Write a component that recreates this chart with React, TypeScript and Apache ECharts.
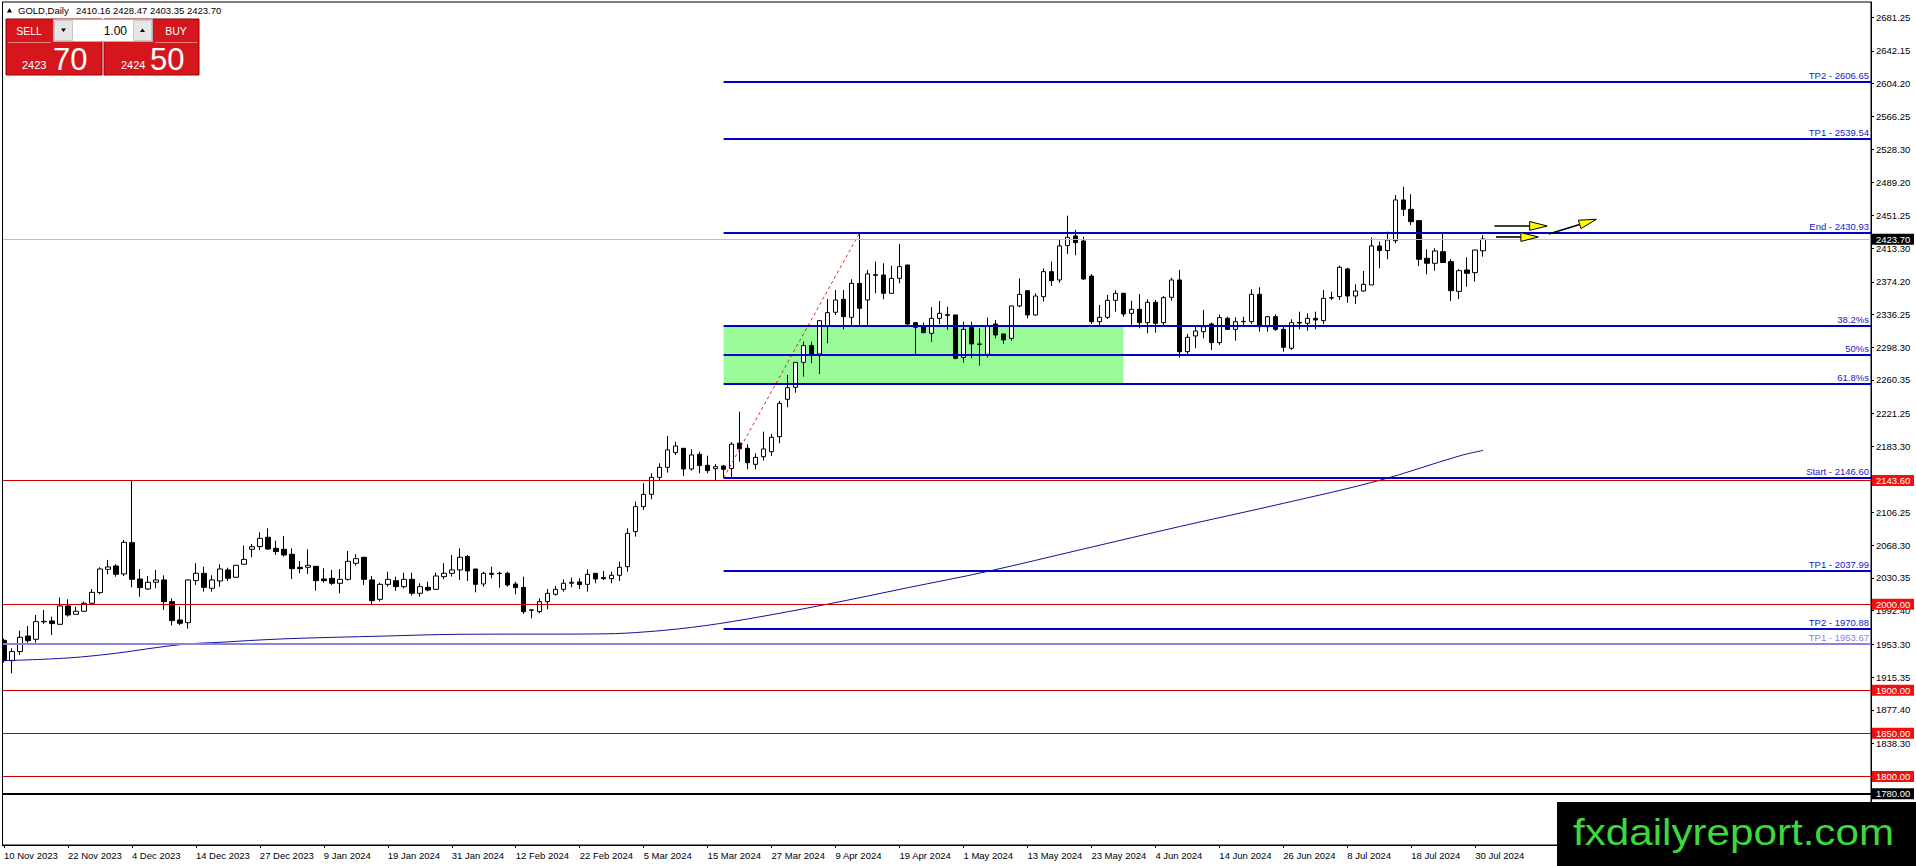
import React, { useEffect, useRef } from "react";
import * as echarts from "echarts";

const W = 1916;
const H = 866;
const FONT = "'Liberation Sans', Arial, sans-serif";
const FONT_WIDE = "'Liberation Sans', Arial, sans-serif";
const FS = 9.5;

// ---------- data ----------
const SYMBOL = "GOLD,Daily";
const MONTH_DAYS: [string, string, number[]][] = [
  ["Nov", "2023", [10, 13, 14, 15, 16, 17, 20, 21, 22, 23, 24, 27, 28, 29, 30]],
  ["Dec", "2023", [1, 4, 5, 6, 7, 8, 11, 12, 13, 14, 15, 18, 19, 20, 21, 22, 26, 27, 28, 29]],
  ["Jan", "2024", [2, 3, 4, 5, 8, 9, 10, 11, 12, 15, 16, 17, 18, 19, 22, 23, 24, 25, 26, 29, 30, 31]],
  ["Feb", "2024", [1, 2, 5, 6, 7, 8, 9, 12, 13, 14, 15, 16, 19, 20, 21, 22, 23, 26, 27, 28, 29]],
  ["Mar", "2024", [1, 4, 5, 6, 7, 8, 11, 12, 13, 14, 15, 18, 19, 20, 21, 22, 25, 26, 27, 28]],
  ["Apr", "2024", [1, 2, 3, 4, 5, 8, 9, 10, 11, 12, 15, 16, 17, 18, 19, 22, 23, 24, 25, 26, 29, 30]],
  ["May", "2024", [1, 2, 3, 6, 7, 8, 9, 10, 13, 14, 15, 16, 17, 20, 21, 22, 23, 24, 27, 28, 29, 30, 31]],
  ["Jun", "2024", [3, 4, 5, 6, 7, 10, 11, 12, 13, 14, 17, 18, 19, 20, 21, 24, 25, 26, 27, 28]],
  ["Jul", "2024", [1, 2, 3, 4, 5, 8, 9, 10, 11, 12, 15, 16, 17, 18, 19, 22, 23, 24, 25, 26, 29, 30, 31]],
];
const DATES: string[] = [];
MONTH_DAYS.forEach(([m, y, days]) => days.forEach((d) => DATES.push(`${d} ${m} ${y}`)));
const FUTURE_SLOTS = 48;
const CATEGORIES: string[] = [...DATES, ...new Array(FUTURE_SLOTS).fill("")];
const LABEL_EVERY = 8;

const OPEN = [
  1958.0, 1934.4, 1944.9, 1963.0, 1959.2, 1979.5, 1980.5, 1976.6, 1997.9, 1988.2,
  1991.7, 2001.0, 2013.4, 2040.4, 2044.3, 2035.0, 2071.4, 2029.2, 2017.6, 2025.4,
  2028.1, 2002.9, 1981.6, 1978.5, 2027.3, 2035.8, 2018.4, 2026.9, 2039.7, 2031.2,
  2046.3, 2063.7, 2066.8, 2077.6, 2064.8, 2063.7, 2057.9, 2042.8, 2042.8, 2043.9,
  2029.2, 2030.0, 2024.2, 2028.8, 2047.4, 2054.4, 2028.1, 2005.6, 2023.0, 2027.3,
  2020.3, 2028.8, 2012.6, 2019.5, 2017.2, 2031.9, 2035.8, 2039.7, 2055.2, 2040.8,
  2023.4, 2035.8, 2035.8, 2035.8, 2023.4, 2019.5, 1993.3, 1991.3, 2002.9, 2011.4,
  2017.2, 2024.2, 2025.8, 2023.0, 2035.8, 2030.8, 2029.6, 2033.5, 2043.5, 2084.2,
  2113.2, 2127.5, 2147.2, 2158.8, 2175.9, 2180.9, 2156.9, 2173.9, 2161.2, 2157.3,
  2160.4, 2157.5, 2187.0, 2180.9, 2162.3, 2171.2, 2177.0, 2194.4, 2237.8, 2251.7,
  2280.7, 2300.1, 2290.4, 2322.9, 2338.8, 2353.9, 2333.0, 2372.4, 2353.1, 2381.7,
  2382.1, 2360.8, 2378.2, 2393.7, 2326.8, 2322.9, 2314.4, 2331.8, 2336.0, 2335.7,
  2286.5, 2321.0, 2302.0, 2290.0, 2325.2, 2313.6, 2308.6, 2346.1, 2363.9, 2335.7,
  2356.9, 2386.0, 2376.3, 2416.2, 2427.4, 2421.6, 2380.9, 2327.9, 2333.0, 2352.7,
  2360.8, 2337.6, 2342.3, 2326.8, 2350.4, 2326.8, 2356.2, 2376.3, 2293.1, 2311.3,
  2316.3, 2325.2, 2303.6, 2331.8, 2319.0, 2327.9, 2327.9, 2359.7, 2322.1, 2333.7,
  2319.0, 2297.0, 2327.0, 2326.0, 2331.8, 2329.1, 2355.4, 2357.0, 2389.1, 2357.7,
  2363.5, 2370.5, 2415.8, 2410.4, 2421.9, 2469.2, 2458.3, 2445.2, 2401.5, 2395.7,
  2409.2, 2397.6, 2363.1, 2387.9, 2384.8, 2410.16,
];
const HIGH = [
  1960.0, 1948.7, 1969.2, 1974.6, 1987.4, 1993.3, 1985.5, 2007.6, 2005.6, 1997.1,
  2002.9, 2017.6, 2042.8, 2051.3, 2046.3, 2074.5, 2143.6, 2040.8, 2032.7, 2039.7,
  2033.4, 2006.8, 1997.1, 2028.5, 2047.4, 2043.5, 2033.5, 2046.3, 2042.4, 2045.4,
  2068.0, 2069.8, 2083.4, 2088.0, 2073.7, 2079.1, 2064.8, 2050.1, 2063.7, 2044.3,
  2041.6, 2039.7, 2040.8, 2061.7, 2057.9, 2054.8, 2032.7, 2025.0, 2037.7, 2031.9,
  2036.6, 2036.6, 2024.2, 2026.1, 2036.6, 2047.4, 2057.1, 2064.8, 2057.1, 2040.9,
  2037.7, 2043.5, 2037.7, 2037.7, 2026.1, 2031.9, 1994.0, 2006.8, 2017.6, 2021.1,
  2028.8, 2030.8, 2030.0, 2040.4, 2036.0, 2038.5, 2037.7, 2049.3, 2088.0, 2119.0,
  2140.3, 2151.9, 2163.5, 2195.2, 2188.6, 2181.2, 2179.7, 2177.0, 2172.4, 2162.7,
  2161.6, 2188.0, 2223.5, 2185.5, 2175.1, 2200.3, 2197.6, 2235.9, 2266.1, 2281.0,
  2304.7, 2304.7, 2329.9, 2354.2, 2364.7, 2364.7, 2377.1, 2430.93, 2387.9, 2397.6,
  2395.7, 2392.9, 2418.1, 2394.0, 2327.0, 2326.8, 2344.6, 2351.9, 2345.3, 2336.0,
  2327.9, 2327.9, 2320.2, 2332.6, 2329.9, 2313.8, 2346.3, 2378.2, 2364.0, 2360.8,
  2389.8, 2397.6, 2422.7, 2451.0, 2434.4, 2426.6, 2383.3, 2347.3, 2358.9, 2364.3,
  2361.6, 2352.3, 2360.0, 2353.9, 2353.1, 2357.7, 2379.0, 2387.9, 2313.6, 2322.1,
  2341.5, 2326.8, 2336.4, 2333.7, 2332.9, 2333.7, 2365.5, 2367.8, 2334.5, 2336.4,
  2322.1, 2330.6, 2339.5, 2337.6, 2339.5, 2364.7, 2362.8, 2393.0, 2390.6, 2371.3,
  2386.7, 2425.5, 2420.8, 2432.4, 2475.0, 2484.6, 2475.8, 2446.0, 2411.9, 2413.1,
  2431.2, 2400.3, 2389.1, 2402.6, 2411.2, 2428.47,
];
const LOW = [
  1932.0, 1919.7, 1941.0, 1955.3, 1955.3, 1977.0, 1964.2, 1976.0, 1985.5, 1988.0,
  1990.9, 2000.2, 2011.4, 2034.6, 2031.9, 2032.7, 2019.5, 2008.7, 2016.4, 2018.4,
  1993.3, 1975.1, 1975.8, 1971.6, 2022.3, 2014.5, 2014.5, 2020.3, 2026.9, 2031.0,
  2046.0, 2054.4, 2062.9, 2062.9, 2057.1, 2055.2, 2029.2, 2035.8, 2035.0, 2015.7,
  2025.0, 2022.3, 2012.6, 2027.3, 2044.7, 2022.3, 2000.2, 2003.0, 2020.3, 2015.3,
  2018.4, 2009.9, 2008.7, 2014.9, 2017.0, 2028.8, 2032.0, 2028.1, 2026.9, 2013.7,
  2020.3, 2030.0, 2019.2, 2020.3, 2011.4, 1988.6, 1983.6, 1989.4, 1994.0, 2009.9,
  2014.5, 2019.5, 2017.6, 2014.5, 2024.2, 2028.0, 2024.2, 2026.9, 2037.7, 2078.4,
  2109.3, 2121.7, 2144.2, 2152.7, 2173.2, 2148.8, 2155.0, 2151.9, 2151.9, 2144.2,
  2146.6, 2147.0, 2165.4, 2156.5, 2156.5, 2166.6, 2172.0, 2186.7, 2228.5, 2245.5,
  2264.1, 2279.6, 2267.2, 2302.8, 2335.7, 2319.0, 2322.9, 2322.9, 2322.9, 2360.8,
  2353.9, 2360.5, 2372.4, 2322.9, 2290.4, 2314.4, 2304.7, 2325.2, 2318.3, 2284.2,
  2280.4, 2285.4, 2276.9, 2286.5, 2308.6, 2302.0, 2305.9, 2344.6, 2331.8, 2335.0,
  2351.2, 2369.3, 2373.2, 2406.5, 2405.0, 2376.3, 2325.2, 2322.9, 2331.0, 2339.5,
  2333.7, 2324.1, 2320.2, 2314.4, 2315.2, 2324.1, 2352.3, 2286.5, 2288.1, 2297.0,
  2308.6, 2295.0, 2300.9, 2318.3, 2305.9, 2324.1, 2325.2, 2316.3, 2316.3, 2317.1,
  2293.1, 2295.0, 2319.0, 2317.5, 2319.0, 2325.2, 2353.1, 2353.1, 2350.0, 2348.5,
  2362.8, 2370.5, 2389.8, 2400.3, 2418.9, 2450.6, 2440.2, 2392.6, 2382.9, 2387.1,
  2396.4, 2351.9, 2354.2, 2368.6, 2374.4, 2403.35,
];
const CLOSE = [
  1934.5, 1944.9, 1961.5, 1957.6, 1979.7, 1980.0, 1977.4, 1997.9, 1987.4, 1991.7,
  2001.0, 2013.7, 2040.8, 2043.2, 2034.6, 2071.8, 2028.8, 2019.2, 2025.4, 2028.1,
  2002.9, 1980.9, 1977.8, 2028.1, 2035.8, 2019.5, 2028.1, 2040.8, 2030.0, 2045.1,
  2052.0, 2066.7, 2076.4, 2064.0, 2061.0, 2057.1, 2041.2, 2041.2, 2045.1, 2027.3,
  2027.3, 2024.2, 2028.8, 2049.7, 2052.8, 2028.8, 2004.1, 2023.0, 2028.8, 2020.3,
  2028.8, 2012.6, 2020.3, 2016.4, 2032.7, 2035.8, 2039.7, 2054.4, 2038.5, 2023.0,
  2035.8, 2034.6, 2035.4, 2022.3, 2019.2, 1991.3, 1993.0, 2002.9, 2012.6, 2017.2,
  2024.2, 2025.4, 2022.7, 2034.6, 2029.2, 2029.6, 2033.5, 2042.8, 2082.2, 2113.2,
  2127.5, 2147.2, 2158.8, 2179.0, 2183.6, 2156.9, 2173.2, 2160.8, 2155.0, 2159.6,
  2156.5, 2185.7, 2180.3, 2164.2, 2170.4, 2180.1, 2193.7, 2233.1, 2251.3, 2280.7,
  2300.1, 2290.0, 2329.1, 2338.4, 2353.1, 2333.7, 2372.4, 2343.4, 2383.3, 2382.5,
  2360.8, 2378.2, 2391.8, 2325.2, 2321.4, 2315.2, 2331.8, 2337.6, 2335.3, 2285.4,
  2319.0, 2302.0, 2301.6, 2322.9, 2312.5, 2306.7, 2346.1, 2359.7, 2335.7, 2357.7,
  2386.0, 2375.5, 2415.8, 2425.8, 2419.6, 2377.5, 2327.9, 2333.0, 2352.7, 2360.8,
  2336.8, 2342.3, 2326.8, 2350.4, 2326.0, 2355.8, 2376.3, 2293.1, 2309.8, 2317.1,
  2322.1, 2303.6, 2332.6, 2319.0, 2327.9, 2328.3, 2359.7, 2322.1, 2333.7, 2319.0,
  2298.1, 2326.8, 2326.4, 2331.8, 2329.9, 2355.0, 2355.8, 2391.0, 2357.7, 2363.5,
  2371.3, 2415.8, 2410.4, 2422.7, 2469.2, 2458.3, 2444.0, 2400.3, 2395.7, 2410.0,
  2396.6, 2363.9, 2387.1, 2384.0, 2411.1, 2423.70,
];

// moving average, read at sample bars
const MA_IDX = [0, 8, 14, 19, 23, 27, 32, 37, 47, 57, 74, 79, 86, 93, 103, 113, 123, 135, 147, 160, 172, 182, 185];
const MA_VAL = [1934.4, 1937.5, 1943.0, 1949.5, 1953.8, 1955.7, 1958.4, 1960.4, 1962.8, 1965.0, 1965.4, 1967.0, 1973.0, 1982.8, 2000.0, 2019.0, 2038.0, 2064.0, 2090.0, 2117.0, 2143.6, 2172.0, 2178.5];

const Y_MIN = 1720.4;
const Y_MAX = 2699.0;
const Y_TICKS = [
  2681.25, 2642.15, 2604.2, 2566.25, 2528.3, 2489.2, 2451.25, 2413.3, 2374.2, 2336.25,
  2298.3, 2260.35, 2221.25, 2183.3, 2106.25, 2068.3, 2030.35, 1992.4, 1953.3,
  1915.35, 1877.4, 1838.3,
];

const RED_LEVELS = [2143.6, 2000.0, 1900.0, 1850.0, 1800.0];
const BLACK_LEVEL = 1780.0;

const FIB_START_IDX = 90;
const FIB_END_IDX = 107;
const FIB_START_PRICE = 2146.6;
const FIB_END_PRICE = 2430.93;
const FIB_LABELS = ["TP2 - 2606.65", "TP1 - 2539.54", "End - 2430.93", "38.2%s", "50%s", "61.8%s", "Start - 2146.60", "TP1 - 2037.99", "TP2 - 1970.88"];
const FIB_VALUES = [2606.65, 2539.54, 2430.93, 2322.32, 2288.77, 2255.21, 2146.6, 2037.99, 1970.88];
const ZONE_END_IDX = 140;
const ZONE_TOP = 2322.32;
const ZONE_BOTTOM = 2255.21;
const EXTRA_TP_LABEL = "TP1 - 1953.67";
const EXTRA_TP_VALUE = 1953.67;

const BID_PRICE = "2423.70";
const ASK_PRICE = "2424.50";
const LOT = "1.00";
const WATERMARK = "fxdailyreport.com";

// arrows: [fromIndex, fromPrice, tipIndex, tipPrice]
const ARROWS: number[][] = [
  [186.4, 2439.0, 193.0, 2439.0],
  [186.6, 2426.2, 191.9, 2426.2],
  [193.2, 2429.7, 199.15, 2446.8],
];

const N = CATEGORIES.length;
const LAST = DATES.length - 1;

function buildOption(): any {
  const labelInterval = (index: number) => index % LABEL_EVERY === 0 && index < DATES.length;
  return {
    animation: false,
    backgroundColor: "#ffffff",
    grid: { left: -1, top: 2, width: 1872, height: 843, show: true, borderColor: "#000", borderWidth: 1, backgroundColor: "transparent" },
    xAxis: {
      type: "category",
      data: CATEGORIES,
      boundaryGap: true,
      axisLine: { show: true, lineStyle: { color: "#000", width: 1 } },
      axisTick: { show: true, interval: labelInterval, alignWithLabel: true, length: 3, lineStyle: { color: "#000" } },
      axisLabel: { interval: labelInterval, align: "left", margin: 5, fontSize: FS, color: "#000", fontFamily: FONT },
      splitLine: { show: false },
    },
    yAxis: {
      type: "value",
      position: "right",
      min: Y_MIN,
      max: Y_MAX,
      axisLine: { show: true, lineStyle: { color: "#000", width: 1 } },
      axisTick: { show: true, customValues: Y_TICKS, length: 3, inside: false, lineStyle: { color: "#000" } },
      axisLabel: {
        customValues: Y_TICKS,
        formatter: (v: number) => Number(v).toFixed(2),
        margin: 5,
        fontSize: FS,
        color: "#000",
        fontFamily: FONT,
      },
      splitLine: { show: false },
    },
    series: [
      {
        type: "candlestick",
        data: DATES.map((_, i) => [OPEN[i], CLOSE[i], LOW[i], HIGH[i]]),
        barWidth: 5,
        z: 3,
        silent: true,
        itemStyle: { color: "#ffffff", color0: "#000000", borderColor: "#000000", borderColor0: "#000000", borderColorDoji: "#000000", borderWidth: 1 },
      },
      {
        type: "line",
        data: MA_IDX.map((x, i) => [x, MA_VAL[i]]),
        smooth: 0.35,
        symbol: "none",
        silent: true,
        z: 4,
        lineStyle: { color: "#12129a", width: 1 },
      },
      {
        type: "line",
        data: [
          [FIB_START_IDX, FIB_START_PRICE],
          [FIB_END_IDX, FIB_END_PRICE],
        ],
        symbol: "none",
        silent: true,
        z: 4,
        lineStyle: { color: "#e02424", width: 1, type: [3, 3] },
      },
    ],
  };
}

function txt(x: number, y: number, text: string, size: number, color: string, align = "left", vAlign = "middle", family = FONT, extra: any = {}) {
  return {
    type: "text",
    x,
    y,
    z: 60,
    silent: true,
    style: { text, fill: color, font: `${size}px ${family}`, align, verticalAlign: vAlign, textAlign: align, textVerticalAlign: vAlign },
    ...extra,
  };
}

function buildGraphics(chart: any): any[] {
  const xi = (i: number) => chart.convertToPixel({ xAxisIndex: 0 }, i) as number;
  const X = (idx: number) => {
    const i0 = Math.floor(idx);
    const a = xi(i0);
    const b = xi(i0 + 1);
    return a + (b - a) * (idx - i0);
  };
  const Y = (v: number) => chart.convertToPixel({ yAxisIndex: 0 }, v) as number;
  const slot = xi(1) - xi(0);
  const right = xi(N - 1) + slot / 2;
  const left = 2;
  const crisp = (y: number) => Math.round(y) + 0.5;
  const els: any[] = [];
  const hline = (x1: number, x2: number, y: number, color: string, width: number, z = 20) =>
    els.push({ type: "line", z, silent: true, shape: { x1, y1: y, x2, y2: y }, style: { stroke: color, lineWidth: width } });

  // left frame
  els.push({ type: "line", z: 30, silent: true, shape: { x1: 2.5, y1: 2, x2: 2.5, y2: 845.5 }, style: { stroke: "#000", lineWidth: 1 } });
  els.push({ type: "rect", z: 29, silent: true, shape: { x: 0, y: 0, width: 2, height: 866 }, style: { fill: "#fff" } });

  // zone
  const zx1 = X(FIB_START_IDX);
  const zx2 = X(ZONE_END_IDX);
  els.push({ type: "rect", z: 1, silent: true, shape: { x: zx1, y: Y(ZONE_TOP), width: zx2 - zx1, height: Y(ZONE_BOTTOM) - Y(ZONE_TOP) }, style: { fill: "#98fb98" } });

  // current price line
  const cur = CLOSE[LAST];
  hline(left, right, crisp(Y(cur)), "#c0c0c0", 1, 5);

  // red levels
  RED_LEVELS.forEach((v) => hline(left, right, crisp(Y(v)), "#d10000", 1));
  // black level
  hline(left, right, Math.round(Y(BLACK_LEVEL)), "#000", 2);
  // extra lavender TP
  const ey = Math.round(Y(EXTRA_TP_VALUE));
  hline(left, right, ey, "#8a84dc", 2);
  els.push(txt(right - 2, ey - 2, EXTRA_TP_LABEL, FS, "#8a84dc", "right", "bottom"));

  // fib lines
  const fx = X(FIB_START_IDX);
  FIB_VALUES.forEach((v, k) => {
    const y = Math.round(Y(v));
    hline(fx, right, y, "#0000c8", 2);
    els.push(txt(right - 2, y - 2, FIB_LABELS[k], FS, "#1818c8", "right", "bottom"));
  });

  // price tags on axis
  const tag = (v: number, bg: string) => {
    const y = Y(v);
    els.push({ type: "rect", z: 55, silent: true, shape: { x: right + 1, y: y - 5.5, width: 42, height: 11 }, style: { fill: bg } });
    els.push(txt(right + 5, y, v.toFixed(2), FS, "#fff", "left", "middle"));
  };
  RED_LEVELS.forEach((v) => tag(v, "#ee1111"));
  tag(BLACK_LEVEL, "#000");
  tag(cur, "#000");

  // arrows
  ARROWS.forEach(([fi, fp, ti, tp]) => {
    const x1 = X(fi), y1 = Y(fp), x2 = X(ti), y2 = Y(tp);
    const dx = x2 - x1, dy = y2 - y1;
    const L = Math.sqrt(dx * dx + dy * dy);
    const ux = dx / L, uy = dy / L;
    const bx = x2 - ux * 17.5, by = y2 - uy * 17.5;
    const px = -uy * 4.4, py = ux * 4.4;
    els.push({ type: "line", z: 40, silent: true, shape: { x1, y1, x2: bx, y2: by }, style: { stroke: "#000", lineWidth: 1.6 } });
    els.push({ type: "polygon", z: 41, silent: true, shape: { points: [[x2, y2], [bx + px, by + py], [bx - px, by - py]] }, style: { fill: "#ffff00", stroke: "#000", lineWidth: 1 } });
  });

  // header
  els.push({ type: "polygon", z: 60, silent: true, shape: { points: [[7, 12.5], [12, 12.5], [9.5, 8]] }, style: { fill: "#000" } });
  els.push(txt(18, 10.5, SYMBOL, FS, "#000"));
  els.push(txt(76, 10.5, [OPEN[LAST], HIGH[LAST], LOW[LAST], CLOSE[LAST]].map((v) => v.toFixed(2)).join(" "), FS, "#000"));

  // one-click panel
  const red = "#d5161d";
  els.push({ type: "rect", z: 50, silent: true, shape: { x: 6, y: 19, width: 96, height: 56 }, style: { fill: red, stroke: "#9a0000", lineWidth: 1 } });
  els.push({ type: "rect", z: 50, silent: true, shape: { x: 104, y: 19, width: 95, height: 56 }, style: { fill: red, stroke: "#9a0000", lineWidth: 1 } });
  els.push({ type: "line", z: 51, silent: true, shape: { x1: 8, y1: 42.5, x2: 51, y2: 42.5 }, style: { stroke: "#f08080", lineWidth: 1 } });
  els.push({ type: "line", z: 51, silent: true, shape: { x1: 155, y1: 42.5, x2: 197, y2: 42.5 }, style: { stroke: "#f08080", lineWidth: 1 } });
  els.push({ type: "rect", z: 52, silent: true, shape: { x: 53.5, y: 19.5, width: 99, height: 22 }, style: { fill: "#ffffff", stroke: "#b0b0b0", lineWidth: 1 } });
  els.push({ type: "rect", z: 53, silent: true, shape: { x: 54.5, y: 20.5, width: 18, height: 20 }, style: { fill: "#e6e6e6", stroke: "#c8c8c8", lineWidth: 1 } });
  els.push({ type: "rect", z: 53, silent: true, shape: { x: 133.5, y: 20.5, width: 18, height: 20 }, style: { fill: "#e6e6e6", stroke: "#c8c8c8", lineWidth: 1 } });
  els.push({ type: "polygon", z: 54, silent: true, shape: { points: [[61, 28.5], [66, 28.5], [63.5, 32]] }, style: { fill: "#000" } });
  els.push({ type: "polygon", z: 54, silent: true, shape: { points: [[140, 32], [145, 32], [142.5, 28.5]] }, style: { fill: "#000" } });
  els.push(txt(127, 30.5, LOT, 12, "#000", "right", "middle", FONT_WIDE));
  els.push(txt(29, 31, "SELL", 10.5, "#fff", "center", "middle"));
  els.push(txt(176, 31, "BUY", 10.5, "#fff", "center", "middle"));
  const [bidInt, bidDec] = BID_PRICE.split(".");
  const [askInt, askDec] = ASK_PRICE.split(".");
  els.push(txt(22, 65, bidInt, 11, "#fff", "left", "middle"));
  els.push(txt(53, 59, bidDec, 31, "#fff", "left", "middle", FONT_WIDE));
  els.push(txt(121, 65, askInt, 11, "#fff", "left", "middle"));
  els.push(txt(150, 59, askDec, 31, "#fff", "left", "middle", FONT_WIDE));

  // watermark box
  els.push({ type: "rect", z: 70, silent: true, shape: { x: 1557, y: 802, width: 359, height: 64 }, style: { fill: "#000" } });
  els.push({
    type: "text",
    z: 71,
    silent: true,
    x: 1573,
    y: 832,
    scaleX: 1.14,
    style: { text: WATERMARK, fill: "#3cd83c", font: `37px ${FONT_WIDE}`, align: "left", verticalAlign: "middle", textAlign: "left", textVerticalAlign: "middle" },
  });

  return els;
}

export default function App() {
  const ref = useRef<HTMLDivElement>(null);
  useEffect(() => {
    const el = ref.current;
    if (!el) return;
    const chart = echarts.init(el, undefined, { renderer: "svg", width: W, height: H });
    chart.setOption(buildOption());
    chart.setOption({ graphic: buildGraphics(chart) });
    return () => chart.dispose();
  }, []);
  return <div ref={ref} style={{ position: "fixed", left: 0, top: 0, width: W, height: H, background: "#fff" }} />;
}
